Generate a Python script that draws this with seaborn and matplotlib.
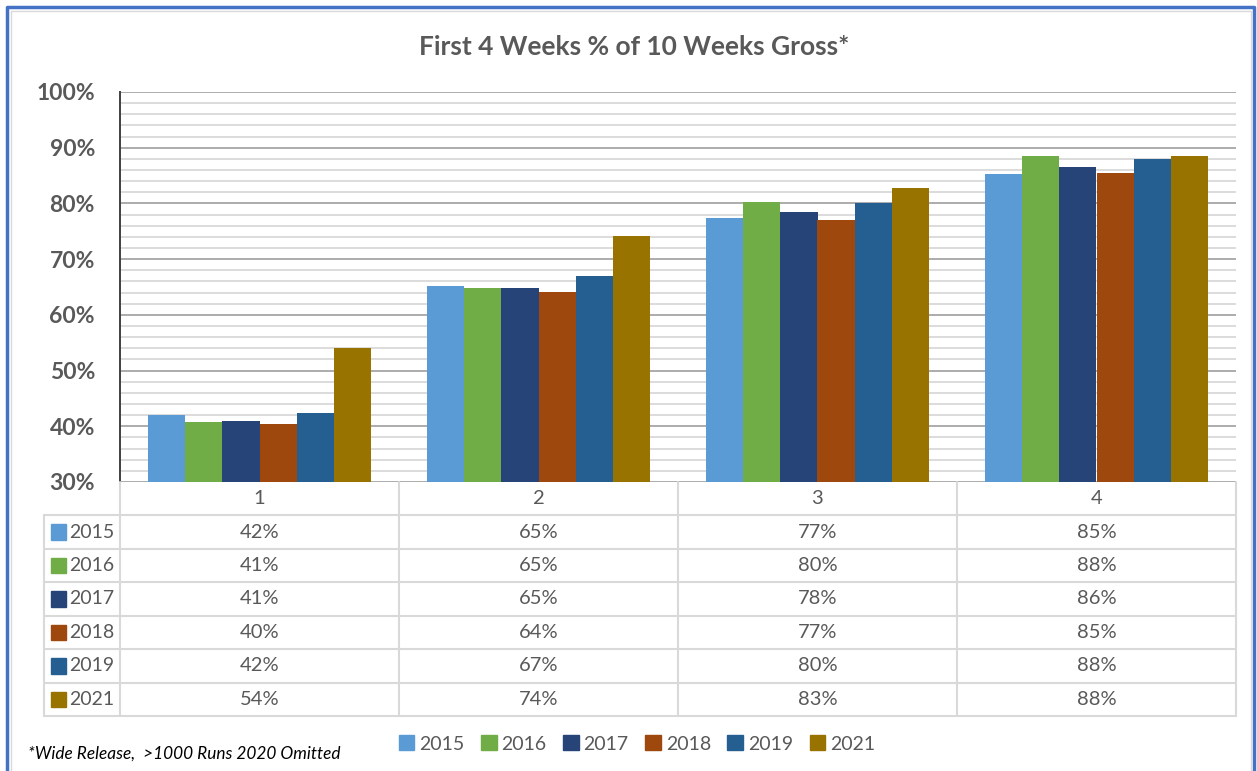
import pandas as pd
import seaborn as sns
import matplotlib.pyplot as plt
import matplotlib.transforms as mtrans
from matplotlib.patches import Rectangle
from matplotlib.lines import Line2D
from matplotlib.ticker import MultipleLocator, FuncFormatter

# values (percent of 10 weeks gross)
weeks = ["1", "2", "3", "4"]
years = ["2015", "2016", "2017", "2018", "2019", "2021"]
pct_2015 = [42.0, 65.1, 77.3, 85.3]
pct_2016 = [40.8, 64.8, 80.3, 88.45]
pct_2017 = [41.0, 64.8, 78.4, 86.45]
pct_2018 = [40.4, 64.1, 77.1, 85.45]
pct_2019 = [42.45, 66.9, 80.1, 88.0]
pct_2021 = [54.0, 74.1, 82.8, 88.49]
colors = ["#5B9BD5", "#70AD47", "#264478", "#9E480E", "#255E91", "#997300"]

series = [pct_2015, pct_2016, pct_2017, pct_2018, pct_2019, pct_2021]
rows = []
for yr, vals in zip(years, series):
    for wk, v in zip(weeks, vals):
        rows.append({"week": wk, "year": yr, "pct": v})
df = pd.DataFrame(rows)

sns.set_style("white")
plt.rcParams['font.family'] = ['Lato', 'DejaVu Sans']
txt = "#595959"

W, H = 1257, 771
fig = plt.figure(figsize=(W / 100, H / 100), dpi=100)


def box(l, t, r, b):
    return [l / W, 1 - b / H, (r - l) / W, (b - t) / H]


ax = fig.add_axes(box(120, 92, 1236, 482))
sns.barplot(data=df, x="week", y="pct", hue="year", palette=colors, ax=ax,
            width=0.8, saturation=1, legend=False, zorder=3)
for p in ax.patches:
    p.set_edgecolor("none")

ax.set_ylim(30, 100)
ax.yaxis.set_major_locator(MultipleLocator(10))
ax.yaxis.set_minor_locator(MultipleLocator(2))
ax.yaxis.set_major_formatter(FuncFormatter(lambda v, _: f"{v:.0f}%"))
ax.set_axisbelow(True)
ax.grid(which="major", axis="y", color="#a6a6a6", lw=1.3)
ax.grid(which="minor", axis="y", color="#d9d9d9", lw=1.3)
ax.tick_params(axis="y", which="major", direction="in", length=6, width=1.3,
               color="#404040", pad=18, labelsize=16.5, labelcolor=txt)
ax.tick_params(axis="y", which="minor", direction="in", length=5, width=1.1, color="#404040")
for lab in ax.get_yticklabels():
    lab.set_fontweight("bold")
ax.tick_params(axis="x", bottom=False, labelbottom=False)
for s in ["top", "right", "bottom"]:
    ax.spines[s].set_visible(False)
ax.spines["left"].set_color("#404040")
ax.spines["left"].set_linewidth(1.4)
ax.set_xlabel("")
ax.set_ylabel("")

# data table under the bars
tax = fig.add_axes(box(120, 482, 1236, 716))
tax.set_xlim(ax.get_xlim())
tax.set_ylim(len(years) + 1, 0)
tax.axis("off")
grid_c = "#d9d9d9"
left_frac = (44 - 120) / 1116
blend = mtrans.blended_transform_factory(tax.transAxes, tax.transData)
for x in [-0.5, 0.5, 1.5, 2.5, 3.5]:
    tax.plot([x, x], [0, len(years) + 1], color=grid_c, lw=1.5, clip_on=False)
tax.plot([left_frac, left_frac], [1, len(years) + 1], color=grid_c, lw=1.5,
         transform=blend, clip_on=False)
for r in range(1, len(years) + 2):
    tax.plot([left_frac, 1], [r, r], color=grid_c, lw=1.5, transform=blend, clip_on=False)

for i, wk in enumerate(weeks):
    tax.text(i, 0.5, wk, ha="center", va="center", fontsize=14.5, color=txt)
for r, (yr, vals, c) in enumerate(zip(years, series, colors), start=1):
    for i, v in enumerate(vals):
        tax.text(i, r + 0.5, f"{v:.0f}%", ha="center", va="center", fontsize=14.5, color=txt)
    tax.add_patch(Rectangle(((51 - 120) / 1116, r + 0.27), 15 / 1116, 0.46,
                            color=c, transform=blend, clip_on=False))
    tax.text((69 - 120) / 1116, r + 0.5, yr, ha="left", va="center", fontsize=14,
             color=txt, transform=blend)

handles = [Rectangle((0, 0), 1, 1, color=c) for c in colors]
fig.legend(handles, years, loc="center", bbox_to_anchor=(637 / W, 1 - 744 / H), ncol=6,
           frameon=False, handlelength=0.8, handleheight=0.8, handletextpad=0.25,
           columnspacing=0.85, fontsize=14, labelcolor=txt)

fig.text(634 / W, 1 - 47 / H, "First 4 Weeks % of 10 Weeks Gross*", ha="center",
         va="center", fontsize=19, fontweight="bold", color=txt)
fig.text(28 / W, 1 - 754 / H, "*Wide Release,  >1000 Runs 2020 Omitted", ha="left",
         va="center", fontsize=12.4, style="italic", color="black")

# frame around the chart
blue = "#4472C4"
fig.add_artist(Line2D([7 / W, 7 / W, 1254 / W, 1254 / W], [0, 1 - 7 / H, 1 - 7 / H, 0],
                      color=blue, lw=2.5, transform=fig.transFigure))
fig.add_artist(Line2D([11 / W, 11 / W, 1251 / W, 1251 / W], [0, 1 - 11 / H, 1 - 11 / H, 0],
                      color="#d9d9d9", lw=1, transform=fig.transFigure))

plt.savefig("out.png", dpi=100)
